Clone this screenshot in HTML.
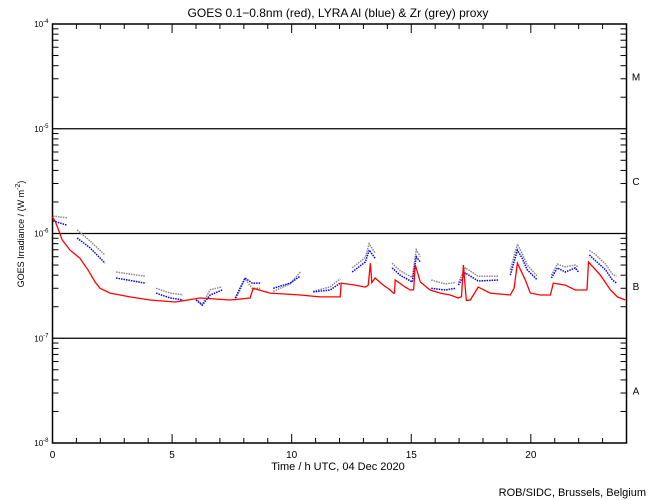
<!DOCTYPE html>
<html><head><meta charset="utf-8"><style>
body{margin:0;background:#fff}
svg{display:block;font-family:"Liberation Sans",sans-serif}
</style></head><body>
<svg id="c" width="650" height="500">
<text x="338" y="17" font-size="12" text-anchor="middle">GOES 0.1−0.8nm (red), LYRA Al (blue) &amp; Zr (grey) proxy</text>
<text transform="translate(24,234) rotate(-90)" font-size="9" text-anchor="middle">GOES Irradiance / (W m<tspan dy="-4" font-size="7">-2</tspan><tspan dy="4">)</tspan></text>
<text x="338" y="470" font-size="11" text-anchor="middle">Time / h UTC, 04 Dec 2020</text>
<text x="646" y="496" font-size="11" text-anchor="end">ROB/SIDC, Brussels, Belgium</text>
<g id="axes"></g>
<g id="series"></g>
</svg>
<script>
const redT=[0,0.13,0.31,0.4,0.73,1.15,1.48,1.78,1.99,2.41,3.24,4.08,5.13,6.17,7.43,8.26,8.39,9.1,10.36,11.19,12.03,12.07,12.66,13.08,13.2,13.29,13.35,13.49,13.83,14.12,14.25,14.3,14.33,14.75,14.96,15.1,15.17,15.38,15.79,16.21,16.63,16.97,17.1,17.18,17.3,17.47,17.8,18.3,19.14,19.3,19.44,19.77,19.98,20.4,20.82,20.94,21.44,21.86,22.28,22.35,22.41,22.91,23.33,23.62,23.95];
const redV=[1.44e-6,1.28e-6,1.0e-6,8.7e-7,6.95e-7,5.8e-7,4.5e-7,3.44e-7,3.0e-7,2.7e-7,2.48e-7,2.32e-7,2.22e-7,2.42e-7,2.32e-7,2.42e-7,3.0e-7,2.7e-7,2.59e-7,2.48e-7,2.48e-7,3.36e-7,3.22e-7,3.08e-7,3.2e-7,5.2e-7,3.4e-7,3.76e-7,3.22e-7,2.89e-7,2.7e-7,2.7e-7,3.6e-7,3.08e-7,2.89e-7,2.9e-7,5.0e-7,3.44e-7,2.89e-7,2.7e-7,2.59e-7,2.42e-7,2.5e-7,5.0e-7,2.3e-7,2.32e-7,3.08e-7,2.7e-7,2.59e-7,3.0e-7,5.2e-7,3.6e-7,2.7e-7,2.59e-7,2.59e-7,3.36e-7,3.22e-7,2.89e-7,2.89e-7,2.9e-7,5.35e-7,4.0e-7,2.89e-7,2.48e-7,2.32e-7];
const lyraT=[0.02,0.61,null,1.03,1.57,2.2,null,2.66,3.87,null,4.33,4.92,5.46,null,6.0,6.26,6.59,7.09,null,7.64,8.05,8.35,8.68,null,9.23,9.94,10.36,null,10.9,11.61,12.03,null,12.53,13.08,13.24,13.49,null,14.2,14.54,15.04,15.21,15.38,null,15.84,16.42,16.84,null,16.97,17.26,17.8,18.64,null,19.14,19.44,19.64,19.85,20.27,null,20.86,21.11,21.44,21.86,21.99,null,22.45,22.7,23.12,23.41,23.58];
const blueV=[1.32e-6,1.2e-6,null,9.05e-7,7.3e-7,5.2e-7,null,3.76e-7,3.36e-7,null,2.7e-7,2.42e-7,2.32e-7,null,2.32e-7,2.07e-7,2.59e-7,2.89e-7,null,2.42e-7,3.76e-7,3.36e-7,3.36e-7,null,3.0e-7,3.36e-7,3.93e-7,null,2.77e-7,2.89e-7,3.36e-7,null,4.29e-7,5.35e-7,6.95e-7,5.8e-7,null,4.69e-7,4.0e-7,3.44e-7,6.0e-7,5.35e-7,null,3.0e-7,2.89e-7,3.0e-7,null,3.22e-7,4.2e-7,3.52e-7,3.6e-7,null,4.0e-7,6.95e-7,5.8e-7,4.5e-7,3.6e-7,null,3.76e-7,4.69e-7,4.29e-7,4.69e-7,4.29e-7,null,6.23e-7,5.5e-7,4.5e-7,3.6e-7,3.36e-7];
const greyV=[1.47e-6,1.41e-6,null,1.08e-6,8.5e-7,6.2e-7,null,4.29e-7,3.9e-7,null,3.0e-7,2.7e-7,2.6e-7,null,2.4e-7,2.1e-7,2.9e-7,3.1e-7,null,2.3e-7,3.7e-7,3.0e-7,3.0e-7,null,2.8e-7,3.3e-7,4.3e-7,null,2.8e-7,3.1e-7,3.7e-7,null,4.7e-7,5.9e-7,8.0e-7,6.5e-7,null,5.2e-7,4.4e-7,3.8e-7,7.0e-7,6.0e-7,null,3.6e-7,3.3e-7,3.4e-7,null,3.4e-7,4.7e-7,3.9e-7,3.9e-7,null,4.5e-7,7.9e-7,6.4e-7,5.0e-7,3.9e-7,null,4.0e-7,5.1e-7,4.8e-7,5.0e-7,4.8e-7,null,6.9e-7,6.3e-7,5.1e-7,4.1e-7,3.9e-7];
const xTickLabels=["0","5","10","15","20"];
const yExponents=[-4,-5,-6,-7,-8];
const classLabels=["M","C","B","A"];

const NS="http://www.w3.org/2000/svg";
const L=52.5,R=626.5,T=24,B=443;
const xs=t=>L+(R-L)*t/24;
const ys=v=>T+(B-T)*(-4-Math.log10(v))/4;
const ax=document.getElementById('axes'),se=document.getElementById('series');
function mk(tag,at,par){const e=document.createElementNS(NS,tag);for(const k in at)e.setAttribute(k,at[k]);par.appendChild(e);return e;}
let r=mk('rect',{x:L,y:T,width:R-L,height:B-T,fill:'none',stroke:'#000','stroke-width':1.5},ax);


for(let h=0;h<=24;h++){const x=xs(h),len=h%5==0?9:5;
 mk('line',{x1:x,x2:x,y1:B,y2:B-len,stroke:'#000'},ax);
 mk('line',{x1:x,x2:x,y1:T,y2:T+len,stroke:'#000'},ax);}
xTickLabels.forEach(s=>{const t=mk('text',{x:xs(+s),y:B+15,'font-size':10,'text-anchor':'middle'},ax);t.textContent=s;
 
 });
yExponents.forEach((e,i)=>{const y=ys(Math.pow(10,e));
 const t=mk('text',{x:L-4,y:y+3,'font-size':8,'text-anchor':'end'},ax);
 t.innerHTML='10<tspan dy="-4" font-size="6">'+e+'</tspan>';
 
 
 if(e>-8&&e<-4){const g=mk('line',{x1:L,x2:R,y1:y,y2:y,stroke:'#000','stroke-width':1.3},ax);
  
  }
 if(i<4){for(let m=2;m<=9;m++){const yy=ys(m*Math.pow(10,e-1));
  mk('line',{x1:L,x2:L+6,y1:yy,y2:yy,stroke:'#000'},ax);
  mk('line',{x1:R,x2:R-6,y1:yy,y2:yy,stroke:'#000'},ax);}
  const c=mk('text',{x:636,y:(y+ys(Math.pow(10,e-1)))/2+4,'font-size':10,'text-anchor':'middle'},ax);c.textContent=classLabels[i];
  
  }
});
function series(T_,V,color,name,w){let seg=[];const segs=[];
 T_.forEach((t,i)=>{if(t==null||V[i]==null){if(seg.length)segs.push(seg);seg=[];}else seg.push(xs(t).toFixed(1)+','+ys(V[i]).toFixed(1));});
 if(seg.length)segs.push(seg);
 segs.forEach(s=>{const p=mk('polyline',{points:s.join(' '),fill:'none',stroke:color,'stroke-width':w,'stroke-dasharray':name=='red-goes-series'?'':'1.5 1'},se);
  
  });}
series(lyraT,greyV,'#888','grey-zr-series',1.5);
series(lyraT,blueV,'#0000ff','blue-al-series',1.5);
series(redT,redV,'#ff0000','red-goes-series',1.3);
</script>
</body></html>
